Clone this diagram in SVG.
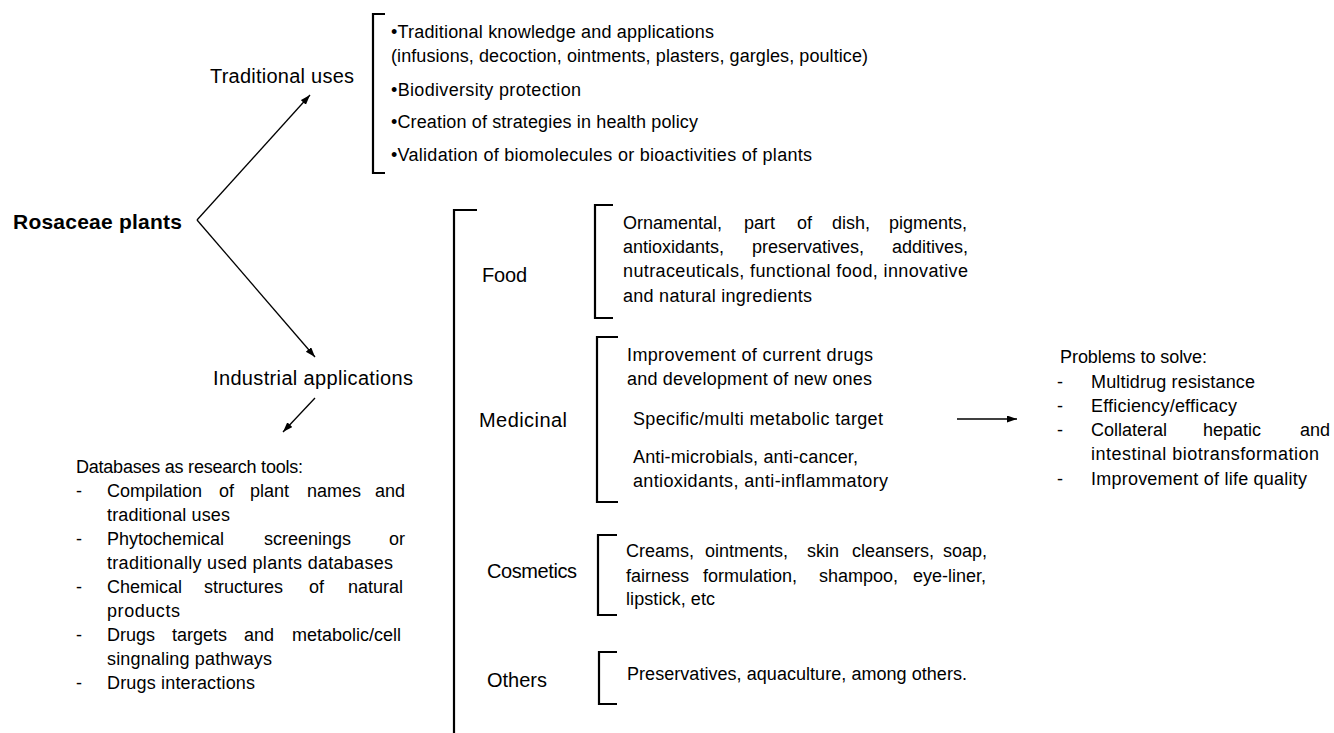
<svg xmlns="http://www.w3.org/2000/svg" width="1334" height="733" viewBox="0 0 1334 733">
<style>
text{font-family:"Liberation Sans",Arial,sans-serif;fill:#000}
.t{font-size:18px}
.lbl{font-size:20px}
.title{font-size:21px;font-weight:bold}
.br{fill:none;stroke:#000;stroke-width:2.2}
.conn{fill:none;stroke:#000;stroke-width:1.3}
</style>
<defs>
<marker id="ah" markerUnits="userSpaceOnUse" markerWidth="11" markerHeight="8" refX="10" refY="3.5" orient="auto">
<path d="M0,0 L10,3.5 L0,7 z" fill="#000"/>
</marker>
</defs>
<rect width="1334" height="733" fill="#fff"/>

<g id="rosaceae">
<text class="title" x="13" y="229" textLength="169">Rosaceae plants</text>
</g>

<g id="traditional-uses">
<text class="lbl" x="210" y="83" textLength="144">Traditional uses</text>
</g>

<g id="traditional-list">
<path class="br" d="M385,14 H373 V173 H385"/>
<text class="t" x="391" y="38" textLength="323">•Traditional knowledge and applications</text>
<text class="t" x="391" y="62" textLength="477">(infusions, decoction, ointments, plasters, gargles, poultice)</text>
<text class="t" x="391" y="96" textLength="190">•Biodiversity protection</text>
<text class="t" x="391" y="128" textLength="307">•Creation of strategies in health policy</text>
<text class="t" x="391" y="161" textLength="421">•Validation of biomolecules or bioactivities of plants</text>
</g>

<g id="industrial-applications">
<text class="lbl" x="213" y="385" textLength="200">Industrial applications</text>
<path class="br" d="M477,210 H454 V733"/>
</g>

<g id="databases">
<text class="t" x="76" y="473" textLength="227">Databases as research tools:</text>
<text class="t" x="76" y="497">-</text>
<text class="t" y="497"><tspan x="107">Compilation</tspan><tspan x="219">of</tspan><tspan x="250">plant</tspan><tspan x="307">names</tspan><tspan x="375">and</tspan></text>
<text class="t" x="107" y="521" textLength="123">traditional uses</text>
<text class="t" x="76" y="545">-</text>
<text class="t" y="545"><tspan x="107">Phytochemical</tspan><tspan x="264">screenings</tspan><tspan x="389">or</tspan></text>
<text class="t" x="107" y="569" textLength="286">traditionally used plants databases</text>
<text class="t" x="76" y="593">-</text>
<text class="t" y="593"><tspan x="107">Chemical</tspan><tspan x="204">structures</tspan><tspan x="309">of</tspan><tspan x="348">natural</tspan></text>
<text class="t" x="107" y="617" textLength="73">products</text>
<text class="t" x="76" y="641">-</text>
<text class="t" y="641"><tspan x="107">Drugs</tspan><tspan x="172">targets</tspan><tspan x="244">and</tspan><tspan x="292">metabolic/cell</tspan></text>
<text class="t" x="107" y="665" textLength="165">singnaling pathways</text>
<text class="t" x="76" y="689">-</text>
<text class="t" x="107" y="689" textLength="148">Drugs interactions</text>
</g>

<g id="food">
<text class="lbl" x="482" y="282" textLength="45">Food</text>
<path class="br" d="M613,205 H595 V318 H613"/>
<text class="t" y="229"><tspan x="623">Ornamental,</tspan><tspan x="744">part</tspan><tspan x="797">of</tspan><tspan x="832">dish,</tspan><tspan x="889">pigments,</tspan></text>
<text class="t" y="253"><tspan x="623">antioxidants,</tspan><tspan x="752">preservatives,</tspan><tspan x="892">additives,</tspan></text>
<text class="t" x="623" y="277" textLength="345">nutraceuticals, functional food, innovative</text>
<text class="t" x="623" y="302" textLength="189">and natural ingredients</text>
</g>

<g id="medicinal">
<text class="lbl" x="479" y="427" textLength="88">Medicinal</text>
<path class="br" d="M618,337 H597 V502 H618"/>
<text class="t" x="627" y="361" textLength="246">Improvement of current drugs</text>
<text class="t" x="627" y="385" textLength="245">and development of new ones</text>
<text class="t" x="633" y="425" textLength="250">Specific/multi metabolic target</text>
<text class="t" x="633" y="463" textLength="225">Anti-microbials, anti-cancer,</text>
<text class="t" x="633" y="487" textLength="255">antioxidants, anti-inflammatory</text>
</g>

<g id="problems">
<text class="t" x="1060" y="363" textLength="147">Problems to solve:</text>
<text class="t" x="1057" y="388">-</text>
<text class="t" x="1091" y="388" textLength="164">Multidrug resistance</text>
<text class="t" x="1057" y="412">-</text>
<text class="t" x="1091" y="412" textLength="146">Efficiency/efficacy</text>
<text class="t" x="1057" y="436">-</text>
<text class="t" y="436"><tspan x="1091">Collateral</tspan><tspan x="1203">hepatic</tspan><tspan x="1300">and</tspan></text>
<text class="t" x="1091" y="460" textLength="228">intestinal biotransformation</text>
<text class="t" x="1057" y="485">-</text>
<text class="t" x="1091" y="485" textLength="216">Improvement of life quality</text>
</g>

<g id="cosmetics">
<text class="lbl" x="487" y="578" textLength="90">Cosmetics</text>
<path class="br" d="M617,535 H598 V615 H617"/>
<text class="t" y="557"><tspan x="626">Creams,</tspan><tspan x="705">ointments,</tspan><tspan x="807">skin</tspan><tspan x="852">cleansers,</tspan><tspan x="943">soap,</tspan></text>
<text class="t" y="582"><tspan x="626">fairness</tspan><tspan x="703">formulation,</tspan><tspan x="819">shampoo,</tspan><tspan x="913">eye-liner,</tspan></text>
<text class="t" x="626" y="605" textLength="89">lipstick, etc</text>
</g>

<g id="others">
<text class="lbl" x="487" y="687" textLength="60">Others</text>
<path class="br" d="M617,652 H599 V704 H617"/>
<text class="t" x="627" y="680" textLength="340">Preservatives, aquaculture, among others.</text>
</g>

<g id="connectors">
<line class="conn" x1="197" y1="220" x2="310" y2="95" marker-end="url(#ah)"/>
<line class="conn" x1="197" y1="220" x2="315" y2="357" marker-end="url(#ah)"/>
<line class="conn" x1="315" y1="398" x2="283" y2="432" marker-end="url(#ah)"/>
<line class="conn" x1="957" y1="419" x2="1017" y2="419" marker-end="url(#ah)"/>
</g>
</svg>
